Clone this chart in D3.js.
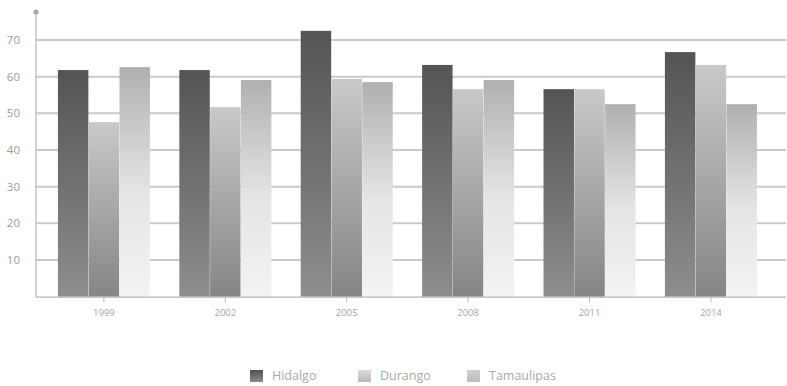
<!DOCTYPE html>
<html><head><meta charset="utf-8">
<script src="https://cdn.jsdelivr.net/npm/d3@7"></script>
<style>body{margin:0;background:#fff}svg{display:block;font-family:"Open Sans",sans-serif}</style>
</head><body><svg id="c" width="787" height="386"></svg>
<script>
const years = ["1999","2002","2005","2008","2011","2014"];
const seriesNames = ["Hidalgo","Durango","Tamaulipas"];
const hidalgo = [61.8,61.8,72.5,63.2,56.6,66.7];
const durango = [47.6,51.7,59.4,56.6,56.6,63.2];
const tamaulipas = [62.6,59.1,58.5,59.1,52.5,52.5];
const yTicks = [10,20,30,40,50,60,70];

const svg = d3.select("#c");
const x0 = 36, yBase = 296.7;
const y = d3.scaleLinear().domain([0,70]).range([yBase,40]);
const x = d3.scaleBand().domain(years).range([36,786]).paddingInner(0.242).paddingOuter(0.21).align(0.43);
const x1 = d3.scaleBand().domain(seriesNames).range([0,x.bandwidth()]).paddingInner(0.011);

const defs = svg.append("defs");
const grads = [
  {id:"g0", stops:[["0%","#535456"],["100%","#8e8e91"]]},
  {id:"g1", stops:[["0%","#c8c9cb"],["100%","#858588"]]},
  {id:"g2", stops:[["0%","#afb0b2"],["55%","#e6e5e6"],["100%","#f4f2f3"]]},
  {id:"l0", stops:[["0%","#505153"],["100%","#8a8a8d"]]},
  {id:"l1", stops:[["0%","#dcdcde"],["100%","#b8b8ba"]]},
  {id:"l2", stops:[["0%","#d0d0d2"],["100%","#bcbcbe"]]}
];
grads.forEach(g=>{
  const lg = defs.append("linearGradient").attr("id",g.id).attr("x1",0).attr("y1",0).attr("x2",0).attr("y2",1);
  g.stops.forEach(s=>lg.append("stop").attr("offset",s[0]).attr("stop-color",s[1]));
});

// gridlines
svg.append("g").selectAll("line").data(yTicks).join("line")
  .attr("x1",x0).attr("x2",786).attr("y1",d=>y(d)).attr("y2",d=>y(d))
  .attr("stroke","#cacaca").attr("stroke-width",2);

// y labels
svg.append("g").selectAll("text").data(yTicks).join("text")
  .attr("x",20).attr("y",d=>y(d)).attr("dy","0.35em").attr("text-anchor","end")
  .attr("font-size",11.5).attr("fill","#9a9a9a").text(d=>d);

// bars
const data = [hidalgo,durango,tamaulipas];
const groups = svg.append("g").selectAll("g").data(years).join("g")
  .attr("transform",d=>`translate(${x(d)},0)`);
groups.selectAll("rect").data((d,i)=>seriesNames.map((s,j)=>({s,j,v:data[j][i]}))).join("rect")
  .attr("x",d=>x1(d.s)).attr("width",x1.bandwidth())
  .attr("y",d=>y(d.v)).attr("height",d=>yBase-y(d.v))
  .attr("fill",d=>`url(#g${d.j})`);

// axes
svg.append("line").attr("x1",x0).attr("x2",x0).attr("y1",12).attr("y2",yBase+0.5).attr("stroke","#b5b5b5").attr("stroke-width",1.2);
svg.append("circle").attr("cx",x0).attr("cy",12).attr("r",2.6).attr("fill","#a8a8a8");
svg.append("line").attr("x1",x0).attr("x2",786).attr("y1",yBase+0.5).attr("y2",yBase+0.5).attr("stroke","#b5b5b5").attr("stroke-width",1.2);
svg.append("g").selectAll("line").data(years).join("line")
  .attr("x1",d=>x(d)+x.bandwidth()/2).attr("x2",d=>x(d)+x.bandwidth()/2)
  .attr("y1",yBase+1).attr("y2",yBase+6).attr("stroke","#b5b5b5");
svg.append("g").selectAll("text").data(years).join("text")
  .attr("x",d=>x(d)+x.bandwidth()/2).attr("y",313).attr("dy","0.35em").attr("text-anchor","middle")
  .attr("font-size",9.5).attr("fill","#a5a5a5").text(d=>d);

// legend
const legX = [250,358,467];
const lg = svg.append("g").selectAll("g").data(seriesNames).join("g")
  .attr("transform",(d,i)=>`translate(${legX[i]},370)`);
lg.append("rect").attr("width",13).attr("height",12).attr("fill",(d,i)=>`url(#l${i})`);
lg.append("text").attr("x",22).attr("y",6).attr("dy","0.35em").attr("font-size",12.5).attr("fill","#a8a8a8").text(d=>d);
</script></body></html>
